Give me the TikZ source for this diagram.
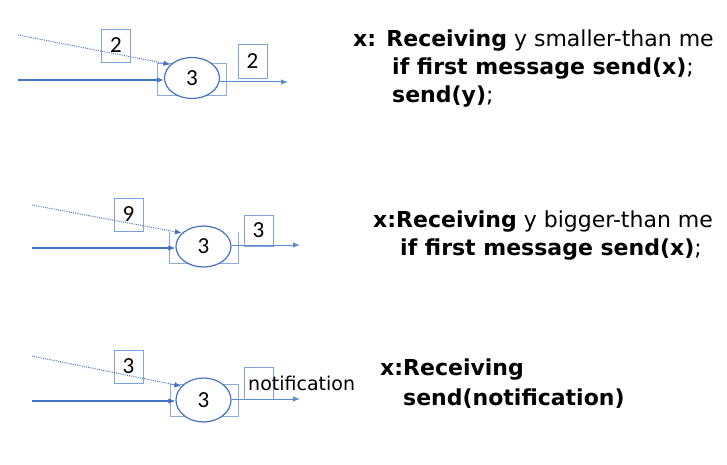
\documentclass[tikz,border=0pt]{standalone}
\usepackage{fontspec}
\setmainfont{DejaVu Sans}
\newfontfamily\numfont{Carlito}
\usetikzlibrary{shapes.geometric,arrows.meta}
\definecolor{lineblue}{HTML}{4472C4}
\definecolor{outblue}{HTML}{5B8BD0}
\definecolor{boxblue}{HTML}{7FA2D8}
\definecolor{rectblue}{HTML}{8FAADC}
\tikzset{
  x=1pt,y=-1pt,
  inpath/.style={draw=lineblue,line width=1.1pt,-{Latex[length=7pt,width=5.5pt]}},
  dotpath/.style={draw=lineblue,line width=1pt,dash pattern=on 1pt off 1.2pt,-{Latex[length=7pt,width=5.5pt]}},
  outpath/.style={draw=outblue,line width=1pt,-{Latex[length=7pt,width=5.5pt]}},
  msgbox/.style={draw=boxblue,line width=0.8pt,inner sep=0pt,minimum width=29pt,minimum height=33pt,font=\numfont\fontsize{23}{23}\selectfont},
  procrect/.style={draw=rectblue,line width=0.8pt,inner sep=0pt},
  proc/.style={ellipse,draw=lineblue,line width=1.2pt,fill=white,inner sep=0pt,minimum width=55pt,minimum height=41pt,font=\numfont\fontsize{23}{23}\selectfont},
  rtext/.style={anchor=base west,inner sep=0pt,font=\fontsize{22}{22}\selectfont},
}
\begin{document}
\begin{tikzpicture}
\useasboundingbox (0,0) rectangle (727,465);
% ---------- panel 1 ----------
\node[procrect,minimum width=69pt,minimum height=32pt] (r1) at (191.5,79) {};
\node[proc] (e1) at (192,78) {3};
\node[msgbox] (b1) at (116,45.5) {2};
\node[msgbox,minimum height=34pt] (c1) at (252.5,61) {2};
\coordinate (d1) at (18,35);
\coordinate (s1) at (18,80);
\coordinate (o1) at (288,82);
\draw[dotpath] (d1) -- (e1.148);
\draw[inpath] (s1) -- (s1 -| e1.west);
\draw[outpath] (o1 -| e1.east) -- (o1);
\node[rtext] (t1a) at (353,47) {\textbf{x: Receiving} y smaller-than me};
\node[rtext] (t1b) at (392,75) {\textbf{if first message send(x)};};
\node[rtext] (t1c) at (392,103) {\textbf{send(y)};};
% ---------- panel 2 ----------
\node[procrect,draw=none,minimum width=68pt,minimum height=31pt] (r2) at (204,247.5) {};
\draw[rectblue,line width=0.8pt] (r2.north west) -- (r2.south west) -- (r2.south east) -- (r2.north east);
\node[proc] (e2) at (203.5,246.5) {3};
\node[msgbox] (b2) at (128.5,214.5) {9};
\node[msgbox,minimum height=31pt] (c2) at (258.5,230.5) {3};
\coordinate (d2) at (32,205);
\coordinate (s2) at (32,248);
\coordinate (o2) at (300,245);
\draw[dotpath] (d2) -- (e2.148);
\draw[inpath] (s2) -- (s2 -| e2.west);
\draw[outpath] (o2 -| e2.east) -- (o2);
\node[rtext] (t2a) at (373,227) {\textbf{x:Receiving} y bigger-than me};
\node[rtext] (t2b) at (400,255) {\textbf{if first message send(x)};};
% ---------- panel 3 ----------
\node[procrect,minimum width=68pt,minimum height=32pt] (r3) at (204,400) {};
\node[proc,minimum height=44pt] (e3) at (203.5,400) {3};
\node[msgbox] (b3) at (128.5,366.5) {3};
\node[msgbox,minimum height=32pt] (c3) at (258.5,383) {};
\coordinate (d3) at (32,356);
\coordinate (s3) at (32,401);
\coordinate (o3) at (300,399);
\draw[dotpath] (d3) -- (e3.148);
\draw[inpath] (s3) -- (s3 -| e3.west);
\draw[outpath] (o3 -| e3.east) -- (o3);
\node[anchor=base west,inner sep=0pt,font=\fontsize{19}{19}\selectfont] (n3) at (248,390) {notification};
\node[rtext] (t3a) at (380,375) {\textbf{x:Receiving}};
\node[rtext] (t3b) at (403,405) {\textbf{send(notification)}};
\end{tikzpicture}
\end{document}
